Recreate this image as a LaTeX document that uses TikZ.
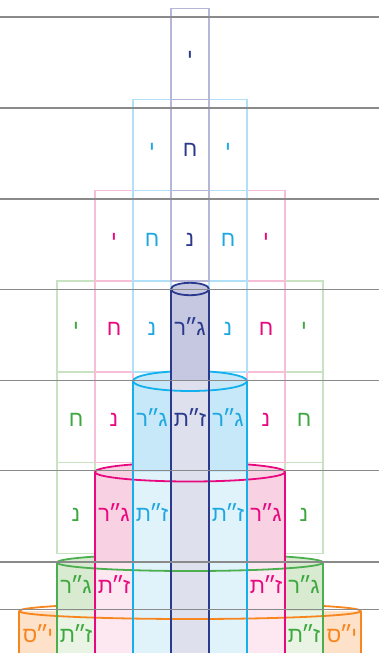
\documentclass[tikz,border=0pt]{standalone}
\usepackage{fontspec}
\newfontfamily\heb[Script=Hebrew]{Liberation Sans}
\TeXXeTstate=1
\newcommand\hbt[1]{{\heb\beginR #1\endR}}
\newcommand\gq{\kern-1.6pt״\kern-1.6pt}
\definecolor{navyL}{HTML}{2B3A8C}
\definecolor{navyBox}{HTML}{B6B6D9}
\definecolor{navyDark}{HTML}{C6C8E1}
\definecolor{navyLight}{HTML}{DFE0EE}
\definecolor{blueL}{HTML}{12B0EC}
\definecolor{blueT}{HTML}{1FA8E0}
\definecolor{blueBox}{HTML}{B0E1F8}
\definecolor{blueDark}{HTML}{C7E8F8}
\definecolor{blueLight}{HTML}{E0F3FB}
\definecolor{pinkL}{HTML}{E8097F}
\definecolor{pinkBox}{HTML}{F6BFD7}
\definecolor{pinkDark}{HTML}{F8D1E3}
\definecolor{pinkLight}{HTML}{FDE7F0}
\definecolor{greenL}{HTML}{4BAE4F}
\definecolor{greenT}{HTML}{3DA83F}
\definecolor{greenBox}{HTML}{C9E2C1}
\definecolor{greenDark}{HTML}{D8EAD0}
\definecolor{greenLight}{HTML}{E9F4E4}
\definecolor{orangeL}{HTML}{F7861E}
\definecolor{orangeF}{HTML}{FDE1C9}
\definecolor{rule}{HTML}{8A8A8A}
\tikzset{
  cellbox/.style={line width=1.4pt},
  cylline/.style={line width=1.8pt},
  grayrule/.style={draw=rule,line width=1.1pt},
  lbl/.style={font=\heb\fontsize{22}{22}\selectfont, inner sep=0pt, anchor=base}
}
\begin{document}
\begin{tikzpicture}[x=1pt,y=-1pt]
\useasboundingbox (0,0) rectangle (379,653);
% ---------- cell outlines ----------
\foreach \r in {4,5,6}{
  \draw[cellbox,greenBox] (57,{8.7+90.8*(\r-1)}) rectangle (95,{8.7+90.8*\r});
  \draw[cellbox,greenBox] (285,{8.7+90.8*(\r-1)}) rectangle (323,{8.7+90.8*\r});
}
\foreach \r in {3,4,5}{
  \draw[cellbox,pinkBox] (95,{8.7+90.8*(\r-1)}) rectangle (133,{8.7+90.8*\r});
  \draw[cellbox,pinkBox] (247,{8.7+90.8*(\r-1)}) rectangle (285,{8.7+90.8*\r});
}
\foreach \r in {2,3,4}{
  \draw[cellbox,blueBox] (133,{8.7+90.8*(\r-1)}) rectangle (171,{8.7+90.8*\r});
  \draw[cellbox,blueBox] (209,{8.7+90.8*(\r-1)}) rectangle (247,{8.7+90.8*\r});
}
\foreach \r in {1,2,3}{
  \draw[cellbox,navyBox] (171,{8.7+90.8*(\r-1)}) rectangle (209,{8.7+90.8*\r});
}
% ---------- cylinder bodies (outer first) ----------
% orange
\fill[orangeF] (19,611) rectangle (361,653);
\fill[orangeF] (19,611) arc[start angle=180,end angle=0,x radius=171,y radius=8] -- cycle;
\draw[cylline,orangeL] (19,611) arc[start angle=180,end angle=360,x radius=171,y radius=8];
% green
\fill[greenDark] (190,562.5) ellipse [x radius=133,y radius=8.5];
\fill[greenDark] (57,562.5) rectangle (323,611);
\fill[greenLight] (57,611) rectangle (323,653);
\draw[cylline,greenL] (57,562.5) arc[start angle=180,end angle=360,x radius=133,y radius=8.5];
% pink
\fill[pinkDark] (190,472) ellipse [x radius=95,y radius=9.5];
\fill[pinkDark] (95,472) rectangle (285,562.5);
\fill[pinkLight] (95,562.5) rectangle (285,653);
\draw[cylline,pinkL] (95,472) arc[start angle=180,end angle=360,x radius=95,y radius=9.5];
% blue
\fill[blueDark] (190,381) ellipse [x radius=57,y radius=10];
\fill[blueDark] (133,381) rectangle (247,472);
\fill[blueLight] (133,472) rectangle (247,653);
\draw[cylline,blueL] (133,381) arc[start angle=180,end angle=360,x radius=57,y radius=10];
% navy
\fill[navyDark] (190,289) ellipse [x radius=19,y radius=6.2];
\fill[navyDark] (171,289) rectangle (209,381);
\fill[navyLight] (171,381) rectangle (209,653);
\draw[cylline,navyL] (171,289) arc[start angle=180,end angle=360,x radius=19,y radius=6.2];
% ---------- front arcs ----------
\draw[cylline,orangeL] (19,611) arc[start angle=180,end angle=0,x radius=171,y radius=8];
\draw[cylline,greenL] (57,562.5) arc[start angle=180,end angle=0,x radius=133,y radius=8.5];
\draw[cylline,pinkL] (95,472) arc[start angle=180,end angle=0,x radius=95,y radius=9.5];
\draw[cylline,blueL] (133,381) arc[start angle=180,end angle=0,x radius=57,y radius=10];
\draw[cylline,navyL] (171,289) arc[start angle=180,end angle=0,x radius=19,y radius=6.2];
% ---------- sides ----------
\draw[cylline,orangeL] (19,611) -- (19,653) (361,611) -- (361,653);
\draw[cylline,greenL] (57,562.5) -- (57,653) (323,562.5) -- (323,653);
\draw[cylline,pinkL] (95,472) -- (95,653) (285,472) -- (285,653);
\draw[cylline,blueL] (133,381) -- (133,653) (247,381) -- (247,653);
\draw[cylline,navyL] (171,289) -- (171,653) (209,289) -- (209,653);
% ---------- horizontal rules ----------
\foreach \y in {17,108,199,289.5,380.5,470.8,562,609.5}{
  \draw[grayrule] (0,\y) -- (379,\y);
}
% ---------- labels ----------
% row 1
\node[lbl,text=navyL] (a5) at (190,64) {\hbt{י}};
% row 2
\node[lbl,text=blueT] (b4) at (152,156) {\hbt{י}};
\node[lbl,text=navyL] (b5) at (190,156) {\hbt{ח}};
\node[lbl,text=blueT] (b6) at (228,156) {\hbt{י}};
% row 3
\node[lbl,text=pinkL] (c3) at (114,246.5) {\hbt{י}};
\node[lbl,text=blueT] (c4) at (152,246.5) {\hbt{ח}};
\node[lbl,text=navyL] (c5) at (190,246.5) {\hbt{נ}};
\node[lbl,text=blueT] (c6) at (228,246.5) {\hbt{ח}};
\node[lbl,text=pinkL] (c7) at (266,246.5) {\hbt{י}};
% row 4
\node[lbl,text=greenT] (d2) at (76,335) {\hbt{י}};
\node[lbl,text=pinkL] (d3) at (114,335) {\hbt{ח}};
\node[lbl,text=blueT] (d4) at (152,335) {\hbt{נ}};
\node[lbl,text=navyL] (d5) at (190,335) {\hbt{ג\gq ר}};
\node[lbl,text=blueT] (d6) at (228,335) {\hbt{נ}};
\node[lbl,text=pinkL] (d7) at (266,335) {\hbt{ח}};
\node[lbl,text=greenT] (d8) at (304,335) {\hbt{י}};
% row 5
\node[lbl,text=greenT] (e2) at (76,426.5) {\hbt{ח}};
\node[lbl,text=pinkL] (e3) at (114,426.5) {\hbt{נ}};
\node[lbl,text=blueT] (e4) at (152,426.5) {\hbt{ג\gq ר}};
\node[lbl,text=navyL] (e5) at (190,426.5) {\hbt{ז\gq ת}};
\node[lbl,text=blueT] (e6) at (228,426.5) {\hbt{ג\gq ר}};
\node[lbl,text=pinkL] (e7) at (266,426.5) {\hbt{נ}};
\node[lbl,text=greenT] (e8) at (304,426.5) {\hbt{ח}};
% row 6
\node[lbl,text=greenT] (f2) at (76,521) {\hbt{נ}};
\node[lbl,text=pinkL] (f3) at (114,521) {\hbt{ג\gq ר}};
\node[lbl,text=blueT] (f4) at (152,521) {\hbt{ז\gq ת}};
\node[lbl,text=blueT] (f6) at (228,521) {\hbt{ז\gq ת}};
\node[lbl,text=pinkL] (f7) at (266,521) {\hbt{ג\gq ר}};
\node[lbl,text=greenT] (f8) at (304,521) {\hbt{נ}};
% row 7
\node[lbl,text=greenT] (g2) at (76,593) {\hbt{ג\gq ר}};
\node[lbl,text=pinkL] (g3) at (114,593) {\hbt{ז\gq ת}};
\node[lbl,text=pinkL] (g7) at (266,593) {\hbt{ז\gq ת}};
\node[lbl,text=greenT] (g8) at (304,593) {\hbt{ג\gq ר}};
% row 8
\node[lbl,text=orangeL] (h1) at (38,642) {\hbt{י\gq ס}};
\node[lbl,text=greenT] (h2) at (76,642) {\hbt{ז\gq ת}};
\node[lbl,text=greenT] (h8) at (304,642) {\hbt{ז\gq ת}};
\node[lbl,text=orangeL] (h9) at (342,642) {\hbt{י\gq ס}};
\end{tikzpicture}
\end{document}
